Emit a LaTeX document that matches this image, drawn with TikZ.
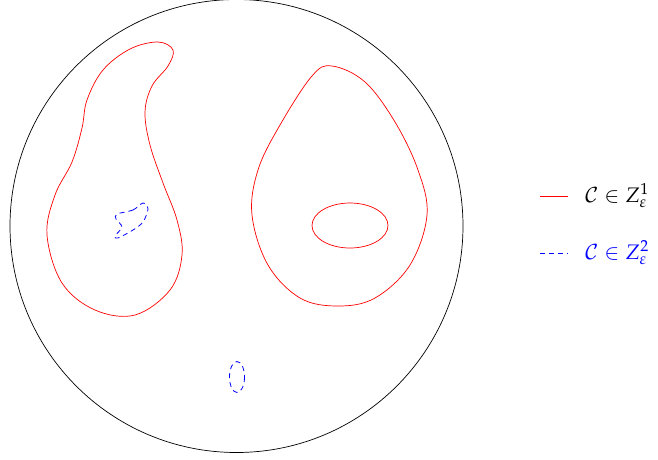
\documentclass[tikz,border=0pt]{standalone}
\usepackage{amsmath,amssymb}
\usepackage{mathpazo}
\usetikzlibrary{positioning}

\begin{document}
\begin{tikzpicture}[x=1pt, y=-1pt,
      disc/.style={draw=black, line width=0.7pt},
      levelone/.style={draw=red, line width=0.7pt},
      leveltwo/.style={color=blue, draw=blue, line width=0.8pt, dash pattern=on 5pt off 4pt},
      legtext/.style={anchor=base west, font=\fontsize{21}{25}\selectfont, inner sep=0pt},
    ]
      \useasboundingbox (0,0) rectangle (658,459);

      % outer disc
      \draw[disc] (236.5,226) circle[radius=226.5];

      % curves of the first kind
      \draw[levelone] plot[smooth cycle, tension=0.6] coordinates {
            (158,42) (173,50) (168,66) (152,86) (145,112) (150,145)
            (163,183) (177,220) (182,255) (170,290) (135,315) (95,310)
            (62,283) (47,235) (55,195) (72,162) (82,128) (87,100)
            (103,70) (130,49)};
      \draw[levelone] plot[smooth cycle, tension=0.6] coordinates {
            (332,66) (365,82) (395,122) (418,170) (427,215) (410,265)
            (375,298) (338,306) (300,298) (268,265) (252,215) (258,170)
            (280,125) (312,76)};
      \draw[levelone] (350,225.5) ellipse[x radius=38, y radius=22.5];

      % curves of the second kind
      \draw[leveltwo] plot[smooth cycle, tension=0.5] coordinates {
            (117,214) (133,210) (143,203) (148,209) (143,222) (133,230)
            (118,238) (115,236) (122,227) (116,219)};
      \draw[leveltwo] (237,377) ellipse[x radius=7.5, y radius=15.5];

      % legend
      \coordinate (oneend) at (540,196);
      \coordinate (twoend) at (540,253.5);
      \coordinate (onestart) at (568,196);
      \coordinate (twostart) at (568,253.5);
      \draw[levelone] (oneend) -- (onestart);
      \draw[leveltwo] (twoend) -- (twostart);
      \node[legtext] (one) at (585,202) {$\mathcal{C}\in Z^1_\varepsilon$};
      \node[legtext, text=blue] (two) at (585,259) {$\mathcal{C}\in Z^2_\varepsilon$};
    \end{tikzpicture}
\end{document}
